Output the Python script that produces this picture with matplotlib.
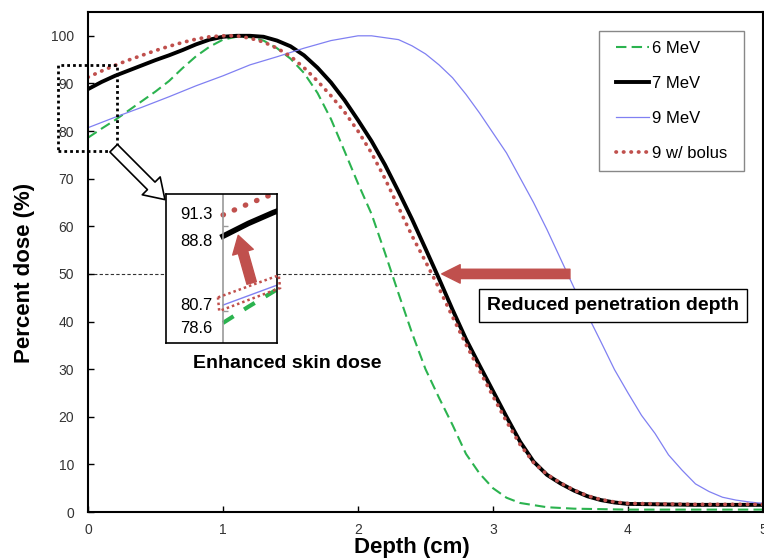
import matplotlib
matplotlib.use('Agg')
import matplotlib.pyplot as plt
from matplotlib.patches import FancyArrowPatch, Rectangle, Polygon
from matplotlib.legend_handler import HandlerLine2D

plt.rcParams['font.family'] = ['Liberation Sans', 'DejaVu Sans']

# depth-dose curves (depth in cm, dose in %)
depth_6 = [0, 0.1, 0.2, 0.3, 0.4, 0.5, 0.6, 0.7, 0.8, 0.9, 1.0, 1.1, 1.2, 1.3, 1.4,
           1.5, 1.6, 1.7, 1.8, 1.9, 2.0, 2.1, 2.2, 2.3, 2.4, 2.5, 2.6, 2.7, 2.8,
           2.9, 3.0, 3.1, 3.2, 3.4, 3.6, 4.0, 5.0]
dose_6 = [78.6, 80.5, 82.3, 84.3, 86.3, 88.3, 90.5, 93.2, 95.7, 97.7, 99.2, 99.8,
          99.7, 99.0, 97.4, 95.2, 92.2, 88.0, 82.5, 75.8, 69.0, 62.6, 54.4, 45.9,
          37.6, 30.0, 24.0, 18.3, 12.2, 8.1, 5.0, 3.0, 1.9, 1.0, 0.7, 0.5, 0.5]

depth_7 = [0, 0.1, 0.2, 0.3, 0.4, 0.5, 0.6, 0.7, 0.8, 0.9, 1.0, 1.1, 1.2, 1.3, 1.4,
           1.5, 1.6, 1.7, 1.8, 1.9, 2.0, 2.1, 2.2, 2.3, 2.4, 2.5, 2.6, 2.7, 2.8,
           2.9, 3.0, 3.1, 3.2, 3.3, 3.4, 3.5, 3.6, 3.7, 3.8, 3.9, 4.0, 4.5, 5.0]
dose_7 = [88.8, 90.3, 91.6, 92.7, 93.8, 94.9, 95.9, 97.0, 98.2, 99.2, 99.8, 100.0,
          100.0, 99.8, 99.0, 97.8, 95.9, 93.3, 90.2, 86.5, 82.3, 77.9, 72.9, 67.3,
          61.5, 55.3, 49.0, 42.5, 36.3, 30.8, 25.4, 20.0, 14.8, 10.6, 7.8, 6.0,
          4.5, 3.3, 2.5, 2.0, 1.7, 1.5, 1.5]

depth_9 = [0, 0.2, 0.4, 0.6, 0.8, 1.0, 1.2, 1.4, 1.6, 1.8, 2.0, 2.1, 2.2, 2.3, 2.4,
           2.5, 2.6, 2.7, 2.8, 2.9, 3.0, 3.1, 3.2, 3.3, 3.4, 3.5, 3.6, 3.7, 3.8,
           3.9, 4.0, 4.1, 4.2, 4.3, 4.4, 4.5, 4.6, 4.7, 4.8, 4.9, 5.0]
dose_9 = [80.7, 82.9, 85.0, 87.2, 89.5, 91.6, 93.9, 95.6, 97.4, 99.0, 100.0, 100.0,
          99.6, 99.2, 97.9, 96.2, 93.9, 91.2, 87.7, 83.8, 79.6, 75.4, 70.2, 65.0,
          59.3, 53.2, 47.1, 41.4, 35.7, 29.9, 25.0, 20.3, 16.5, 12.0, 8.8, 5.9,
          4.3, 3.1, 2.5, 2.1, 1.8]

depth_bolus = [0, 0.1, 0.2, 0.3, 0.4, 0.5, 0.6, 0.7, 0.8, 0.9, 1.0, 1.1, 1.2, 1.3,
               1.4, 1.5, 1.6, 1.7, 1.8, 1.9, 2.0, 2.1, 2.2, 2.3, 2.4, 2.5, 2.6,
               2.7, 2.8, 2.9, 3.0, 3.1, 3.2, 3.3, 3.4, 3.5, 3.6, 3.7, 3.8, 3.9,
               4.0, 4.5, 5.0]
dose_bolus = [91.3, 92.6, 93.8, 94.9, 95.9, 96.9, 97.8, 98.6, 99.3, 99.8, 100.0,
              100.0, 99.5, 98.7, 97.4, 95.7, 93.3, 90.5, 87.4, 84.0, 80.0, 75.4,
              70.0, 64.0, 58.0, 52.6, 47.0, 41.0, 35.2, 29.7, 24.3, 19.0, 14.2,
              10.4, 7.9, 6.1, 4.6, 3.4, 2.6, 2.1, 1.8, 1.6, 1.6]

labels = ['6 MeV', '7 MeV', '9 MeV', '9 w/ bolus']
surface_doses = ['91.3', '88.8', '80.7', '78.6']
surface_label_y = [91.3, 88.2, 80.6, 78.0]

green = '#2bb34f'
blue = '#8080f2'
red = '#c0504d'

fig = plt.figure(figsize=(7.64, 5.59), dpi=100)
ax = fig.add_axes([88 / 764, 47 / 559, 675 / 764, 500 / 559])

ax.plot(depth_6, dose_6, color=green, lw=1.5, dashes=(5, 2.5), label=labels[0])
ax.plot(depth_7, dose_7, color='black', lw=2.8, label=labels[1])
ax.plot(depth_9, dose_9, color=blue, lw=0.9, label=labels[2])
ax.plot(depth_bolus, dose_bolus, color=red, lw=2.7, dashes=(0.1, 1.9),
        dash_capstyle='round', label=labels[3])

# 50% reference line
ax.plot([0, 2.58], [50, 50], color='#333333', lw=0.8, dashes=(3, 2), zorder=1)

ax.set_xlim(0, 5)
ax.set_ylim(0, 105)
ax.set_xticks(range(0, 6))
ax.set_yticks(range(0, 101, 10))
ax.tick_params(direction='in', length=4, width=1, labelsize=10, labelcolor='#333333')
ax.tick_params(axis='y', pad=10)
ax.tick_params(axis='x', pad=8)
for sp in ax.spines.values():
    sp.set_linewidth(1.5)

ax.set_xlabel('Depth (cm)', fontsize=16, fontweight='bold')
ax.set_ylabel('Percent dose (%)', fontsize=16, fontweight='bold')
ax.xaxis.set_label_coords(0.48, -0.051)
ax.yaxis.set_label_coords(-0.079, 0.479)

# legend box placed to match the original frame
leg = ax.legend(loc='upper left', bbox_to_anchor=(0.757, 0.0, 0.215, 0.962),
                mode='expand', borderaxespad=0, fontsize=12, frameon=True,
                fancybox=False, edgecolor='#888888', framealpha=1,
                handlelength=2.4, handletextpad=0.2, labelspacing=1.2,
                borderpad=0.6, handler_map={plt.Line2D: HandlerLine2D(xpad=0.4)})
leg.get_frame().set_linewidth(1.0)

# dotted zoom box near the surface
ax.add_patch(Rectangle((-0.225, 75.9), 0.438, 17.9, fill=False, ec='black',
                       lw=2, ls=(0, (1, 1.1)), clip_on=False, zorder=5))

# hollow arrow pointing to the inset
ax.add_patch(FancyArrowPatch((0.19, 76.4), (0.57, 65.6),
                             arrowstyle='simple,head_width=1.3,head_length=1.0,tail_width=0.55',
                             mutation_scale=14, fc='white', ec='black', lw=1.2,
                             shrinkA=0, shrinkB=0, zorder=6))

# red arrow for reduced penetration
ax.add_patch(FancyArrowPatch((3.57, 50), (2.62, 50),
                             arrowstyle='simple,head_width=0.95,head_length=0.95,tail_width=0.48',
                             mutation_scale=14, color=red, shrinkA=0, shrinkB=0,
                             zorder=6))

ax.text(3.888, 43.3, 'Reduced penetration depth', fontsize=14, fontweight='bold',
        ha='center', va='center',
        bbox=dict(boxstyle='square,pad=0.42', fc='white', ec='black', lw=1))
ax.text(1.478, 31.1, 'Enhanced skin dose', fontsize=14, fontweight='bold',
        ha='center', va='center')

# magnified inset of the surface region
ax_in = fig.add_axes([166 / 764, 216 / 559, 111 / 764, 149 / 559])
ax_in.plot(depth_6, dose_6, color=green, lw=3, dashes=(3, 3))
ax_in.plot(depth_7, dose_7, color='black', lw=4)
ax_in.plot(depth_9, dose_9, color=blue, lw=1)
ax_in.plot(depth_bolus, dose_bolus, color=red, lw=3.8, dashes=(0.1, 2.2),
           dash_capstyle='round')
ax_in.axvline(0, color='#999999', lw=1.2)
ax_in.hlines([80, 90], 0, 0.02, color='#999999', lw=1)
ax_in.set_xlim(-0.225, 0.213)
ax_in.set_ylim(76.24, 93.76)
ax_in.set_xticks([])
ax_in.set_yticks([])
for sp in ax_in.spines.values():
    sp.set_linewidth(1.2)
for txt, yy in zip(surface_doses, surface_label_y):
    ax_in.text(-0.104, yy, txt, fontsize=12, ha='center', va='center')

ax_in.add_patch(Polygon([(-0.02, 81.6), (0.22, 84.2), (0.225, 82.7), (-0.015, 80.0)],
                        closed=True, fill=False, ec=red, lw=1.8,
                        ls=(0, (1, 1.2)), clip_on=False, zorder=4))
ax_in.add_patch(FancyArrowPatch((0.113, 83.3), (0.060, 88.9),
                                arrowstyle='simple,head_width=1.1,head_length=0.9,tail_width=0.5',
                                mutation_scale=14, color=red, shrinkA=0, shrinkB=0,
                                zorder=5))

fig.savefig('out.png', dpi=100)
